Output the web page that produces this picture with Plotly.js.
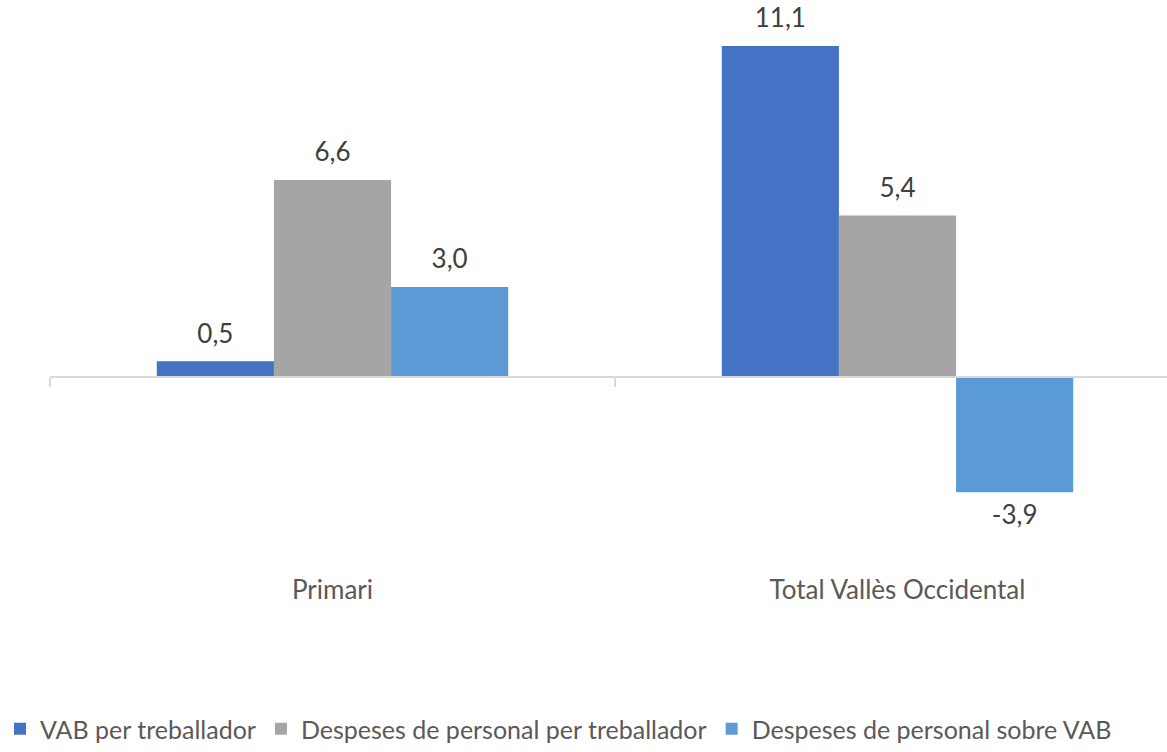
<!DOCTYPE html>
<html>
<head>
<meta charset="utf-8">
<script src="https://cdn.plot.ly/plotly-3.0.1.min.js"></script>
<style>html,body{margin:0;padding:0;background:#fff;overflow:hidden}</style>
</head>
<body>
<div id="chart" style="width:1167px;height:752px"></div>
<script>
const categories = ["Primari", "Total Vallès Occidental"];
const seriesNames = ["VAB per treballador", "Despeses de personal per treballador", "Despeses de personal sobre VAB"];
const vab = [0.5, 11.1];
const despesesTreb = [6.6, 5.4];
const despesesVab = [3.0, -3.9];
const seriesValues = [vab, despesesTreb, despesesVab];
const colors = ["#4472C4", "#A5A5A5", "#5B9BD5"];

const FONT = "Lato, 'Open Sans', sans-serif";
const yRange = [-8.2, 12.65];
const gap = 0.378;

const traces = [];
seriesValues.forEach((vals, i) => {
  traces.push({
    type: "bar", name: seriesNames[i], x: categories, y: vals,
    marker: {color: colors[i]}, hoverinfo: "skip", offsetgroup: String(i)
  });
});
seriesValues.forEach((vals, i) => {
  traces.push({
    type: "scatter", mode: "text+markers", x: categories, y: vals,
    marker: {size: 18, opacity: 0},
    texttemplate: "%{y:.1f}",
    textposition: vals.map(v => v >= 0 ? "top center" : "bottom center"),
    textfont: {family: FONT, size: 26, color: "#404040"},
    cliponaxis: false, showlegend: false, hoverinfo: "skip", offsetgroup: String(i)
  });
});

const layout = {
  width: 1167, height: 752,
  margin: {l: 50, r: 0, t: 0, b: 132},
  paper_bgcolor: "#ffffff", plot_bgcolor: "#ffffff",
  separators: ",.",
  barmode: "group", bargap: gap, bargroupgap: 0,
  scattermode: "group", scattergap: gap,
  font: {family: FONT, size: 26, color: "#595959"},
  showlegend: true,
  legend: {
    orientation: "h", xref: "container", yref: "container",
    x: -0.003, xanchor: "left", y: -0.012, yanchor: "bottom",
    font: {family: FONT, size: 25, color: "#595959"},
    traceorder: "normal", itemclick: false
  },
  xaxis: {
    type: "category", range: [-0.5, 1.477],
    anchor: "free", position: -yRange[0] / (yRange[1] - yRange[0]),
    showline: true, linecolor: "#D9D9D9", linewidth: 1.5,
    ticks: "outside", tickson: "boundaries", ticklen: 9, tickcolor: "#D9D9D9", tickwidth: 1.5,
    ticklabelstandoff: 190,
    tickfont: {family: FONT, size: 26, color: "#595959"},
    showgrid: false, zeroline: false, automargin: false, fixedrange: true
  },
  yaxis: {
    range: yRange, visible: false, showgrid: false, zeroline: false, fixedrange: true
  }
};

Plotly.newPlot("chart", traces, layout, {displayModeBar: false, staticPlot: true});
</script>
</body>
</html>
